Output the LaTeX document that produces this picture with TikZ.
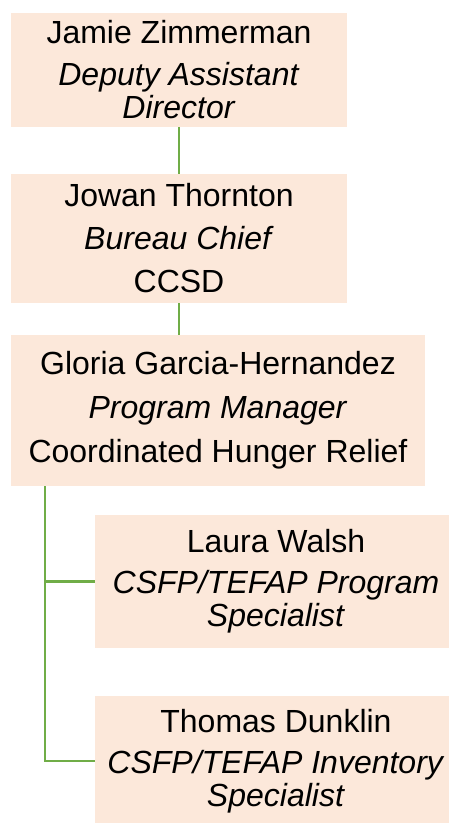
\documentclass[tikz,border=0pt]{standalone}
\usepackage{fontspec}
\setmainfont{Liberation Sans}
\usetikzlibrary{positioning}
\definecolor{peach}{HTML}{FCE8DA}
\definecolor{linkgreen}{HTML}{70AD47}

\begin{document}
\begin{tikzpicture}[x=1pt,y=-1pt,
    person/.style={fill=peach,inner sep=0pt,align=center,
      font=\fontsize{32}{33}\selectfont},
    link/.style={linkgreen,line width=2.6pt}]
  \useasboundingbox (0,0) rectangle (448,823);

  % Boxes
  \node[person,minimum width=336pt,minimum height=114pt] (zimmerman) at (179,70)
    {Jamie Zimmerman\\[9pt]\textit{Deputy Assistant}\\\textit{Director}};
  \node[person,minimum width=336pt,minimum height=129pt] (thornton) at (179,238.5)
    {Jowan Thornton\\[10pt]\textit{Bureau Chief}\\[10pt]CCSD};
  \node[person,minimum width=414pt,minimum height=151pt] (garcia) at (218,410.5)
    {Gloria Garcia-Hernandez\\[11pt]\textit{Program Manager}\\[11pt]Coordinated Hunger Relief};
  \node[person,minimum width=362pt,minimum height=133pt] (walsh) at (276,581.5)
    {Laura Walsh\\[8pt]\textit{CSFP/TEFAP Program}\\\textit{Specialist}};
  \node[person,minimum width=362pt,minimum height=130pt] (dunklin) at (276,761)
    {Thomas Dunklin\\[8pt]\textit{CSFP/TEFAP Inventory}\\\textit{Specialist}};

  % Links
  \draw[link] (zimmerman) -- (thornton);
  \draw[link] (thornton.south) -- (thornton.south |- garcia.north);
  \coordinate (trunk) at (45,486);
  \draw[link] (trunk) |- (walsh.west);
  \draw[link] (trunk) |- (dunklin.west);
\end{tikzpicture}
\end{document}
